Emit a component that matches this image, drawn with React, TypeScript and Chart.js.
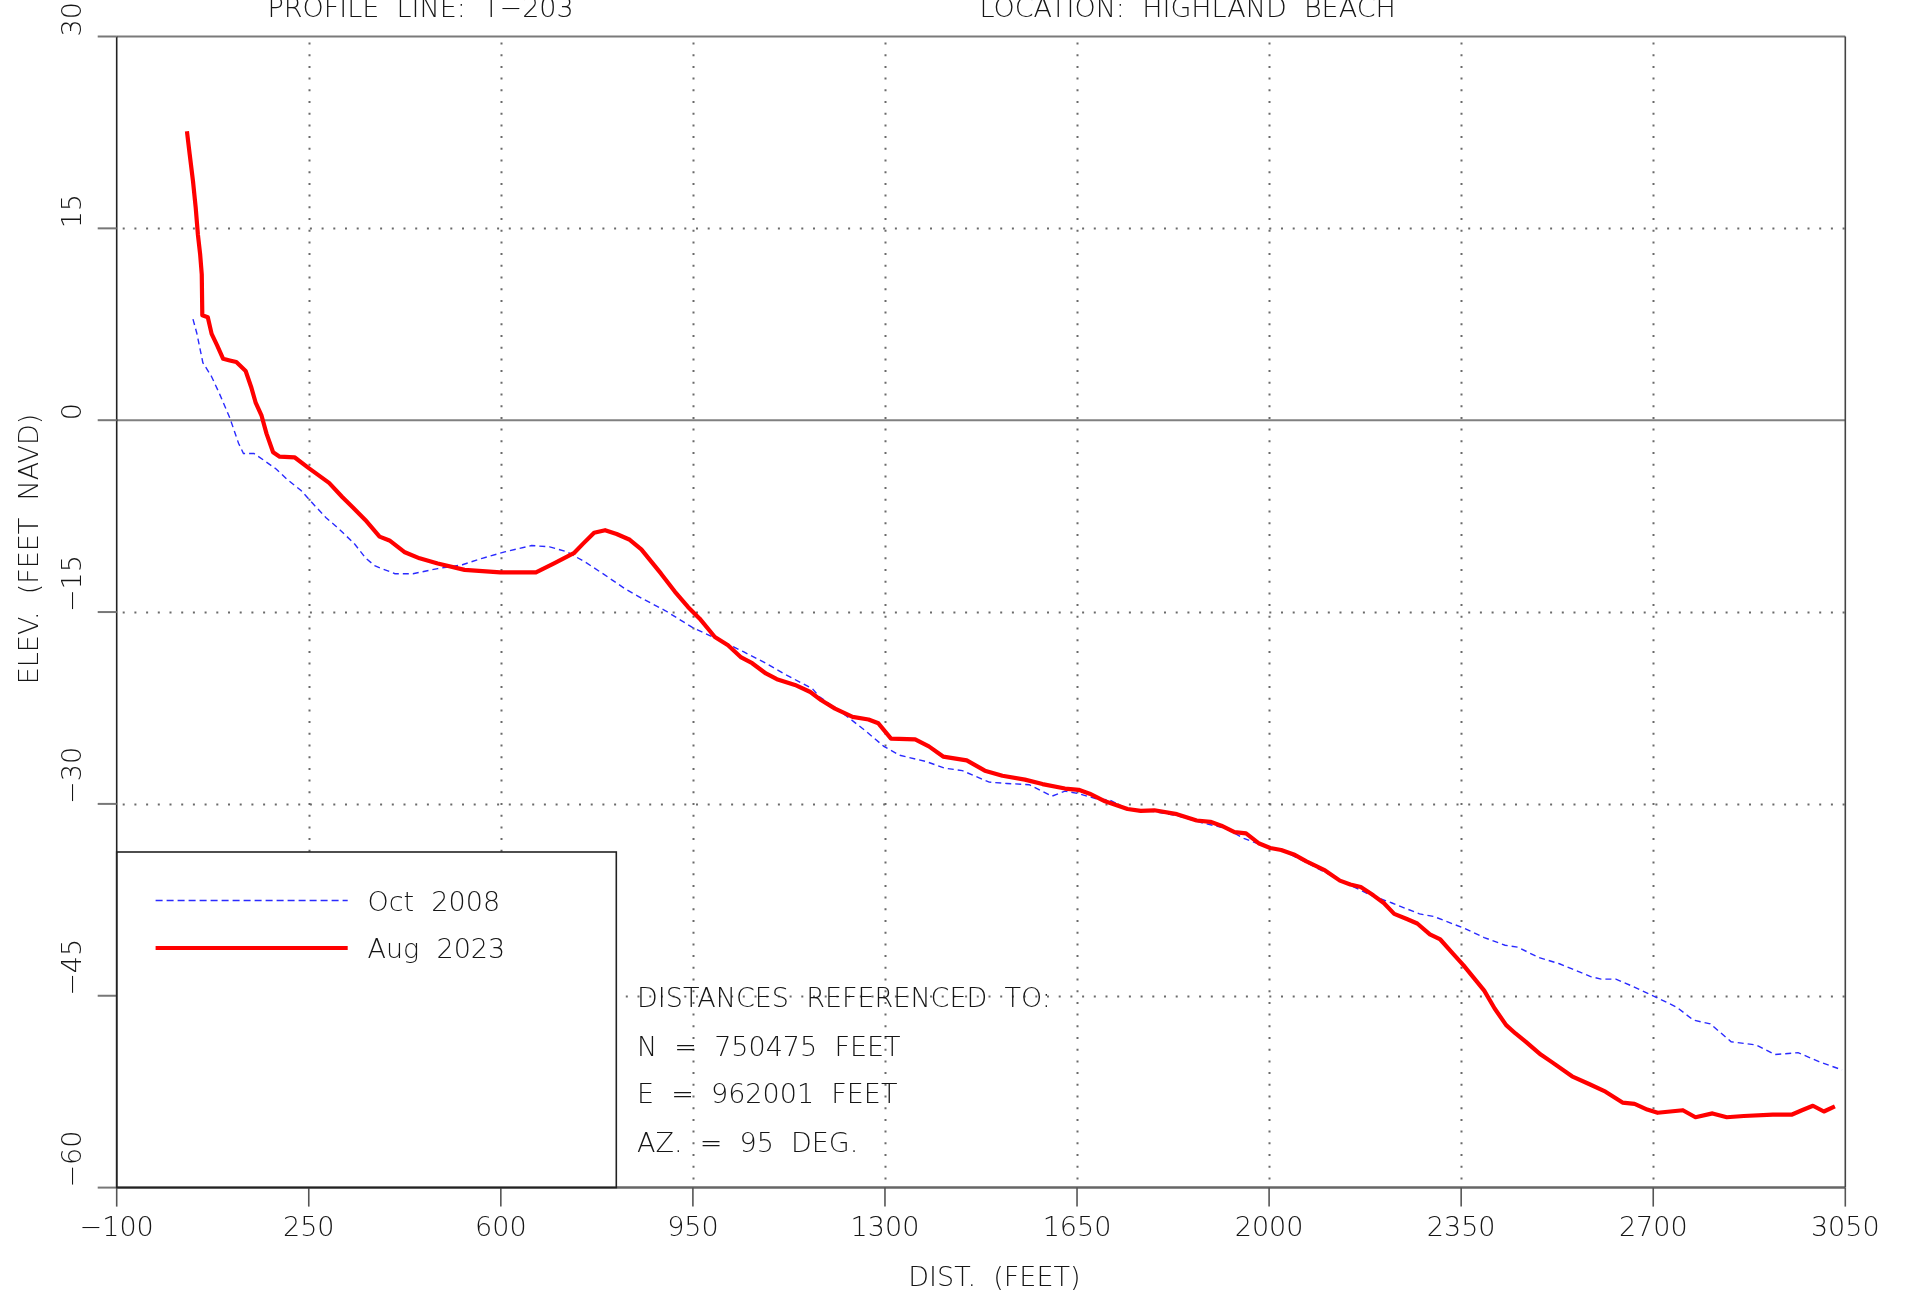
import React, { useEffect, useRef } from 'react';
import { Chart, registerables } from 'chart.js';

Chart.register(...registerables);

// ---------- data ----------
const X_MIN = -100;
const X_MAX = 3050;
const Y_MIN = -60;
const Y_MAX = 30;

const xTickValues = [-100, 250, 600, 950, 1300, 1650, 2000, 2350, 2700, 3050];
const yTickValues = [-60, -45, -30, -15, 0, 15, 30];

const seriesLabels = ['Oct  2008', 'Aug  2023'];

const octDist = [
  39, 46, 57, 73, 88, 106, 122, 131, 150, 167,
  190, 210, 236, 257, 281, 305, 334, 354, 371, 407,
  440, 485, 530, 566, 607, 656, 689, 721, 754, 786,
  827, 860, 900, 949, 994, 1042, 1083, 1115, 1168, 1180,
  1229, 1262, 1298, 1327, 1376, 1408, 1441, 1490, 1522, 1563,
  1604, 1628, 1653, 1685, 1710, 1742, 1790, 1831, 1880, 1920,
  1954, 1985, 2027, 2064, 2100, 2140, 2186, 2224, 2274, 2300,
  2354, 2392, 2430, 2453, 2491, 2529, 2552, 2586, 2605, 2632,
  2659, 2697, 2743, 2773, 2804, 2842, 2888, 2922, 2964, 3002,
  3044,
];
const octElev = [
  7.9, 6.8, 4.5, 3.4, 2.0, 0.2, -1.8, -2.6, -2.6, -3.1,
  -3.8, -4.6, -5.5, -6.5, -7.6, -8.5, -9.7, -10.8, -11.4, -12.0,
  -12.0, -11.6, -11.3, -10.8, -10.3, -9.8, -9.9, -10.3, -11.1, -12.0,
  -13.2, -14.0, -14.9, -16.2, -17.1, -18.1, -19.0, -19.8, -21.0, -21.6,
  -23.1, -24.2, -25.5, -26.2, -26.7, -27.2, -27.4, -28.3, -28.4, -28.5,
  -29.4, -29.0, -29.2, -29.6, -29.7, -30.4, -30.6, -30.9, -31.5, -31.9,
  -32.7, -33.2, -33.7, -34.5, -35.3, -36.2, -37.15, -37.75, -38.6, -38.8,
  -39.7, -40.45, -41.05, -41.2, -42.0, -42.5, -42.9, -43.5, -43.7, -43.7,
  -44.2, -44.95, -45.9, -46.9, -47.2, -48.6, -48.85, -49.6, -49.45, -50.15,
  -50.8,
];

const augDist = [
  28, 33, 39, 44, 48, 52, 55, 56, 66, 73,
  83, 94, 106, 118, 135, 145, 153, 164, 173, 185,
  197, 224, 250, 287, 311, 330, 353, 379, 397, 424,
  452, 485, 534, 599, 664, 697, 733, 750, 770, 790,
  811, 835, 856, 892, 917, 941, 962, 990, 1014, 1038,
  1058, 1083, 1103, 1136, 1164, 1184, 1209, 1241, 1270, 1288,
  1311, 1355, 1380, 1406, 1449, 1482, 1514, 1555, 1587, 1628,
  1653, 1673, 1701, 1742, 1766, 1791, 1832, 1868, 1893, 1913,
  1937, 1958, 1982, 2002, 2022, 2045, 2068, 2102, 2129, 2148,
  2167, 2190, 2209, 2228, 2251, 2270, 2293, 2312, 2335, 2354,
  2373, 2392, 2411, 2432, 2449, 2468, 2495, 2514, 2552, 2583,
  2613, 2644, 2666, 2689, 2708, 2754, 2777, 2808, 2834, 2865,
  2918, 2952, 2971, 2991, 3011, 3031,
];
const augElev = [
  22.6, 20.8, 18.7, 16.6, 14.5, 13.0, 11.4, 8.2, 8.05, 6.75,
  5.85, 4.8, 4.67, 4.55, 3.85, 2.6, 1.4, 0.35, -1.05, -2.5,
  -2.85, -2.9, -3.75, -4.9, -6.0, -6.8, -7.8, -9.1, -9.4, -10.3,
  -10.8, -11.2, -11.7, -11.9, -11.9, -11.2, -10.4, -9.65, -8.8, -8.6,
  -8.9, -9.35, -10.1, -12.0, -13.4, -14.6, -15.5, -16.95, -17.6, -18.55,
  -19.0, -19.8, -20.25, -20.7, -21.25, -21.9, -22.55, -23.2, -23.4, -23.7,
  -24.9, -24.95, -25.5, -26.3, -26.6, -27.4, -27.8, -28.1, -28.45, -28.8,
  -28.9, -29.2, -29.8, -30.4, -30.55, -30.5, -30.8, -31.3, -31.4, -31.7,
  -32.2, -32.3, -33.1, -33.45, -33.6, -33.95, -34.5, -35.2, -36.0, -36.3,
  -36.5, -37.15, -37.75, -38.6, -39.0, -39.35, -40.2, -40.6, -41.7, -42.6,
  -43.6, -44.6, -46.0, -47.3, -47.95, -48.6, -49.6, -50.15, -51.3, -51.9,
  -52.5, -53.35, -53.45, -53.9, -54.15, -53.95, -54.5, -54.2, -54.5, -54.4,
  -54.3, -54.3, -53.95, -53.6, -54.05, -53.65,
];

const titleLeft = 'PROFILE  LINE:  T\u2212203';
const titleRight = 'LOCATION:  HIGHLAND  BEACH';
const xTitle = 'DIST.  (FEET)';
const yTitle = 'ELEV.  (FEET  NAVD)';
const notes = [
  'DISTANCES  REFERENCED  TO:',
  'N  =  750475  FEET',
  'E  =  962001  FEET',
  'AZ.  =  95  DEG.',
];

// ---------- style ----------
const FONT = '"DejaVu Sans", "Liberation Sans", sans-serif';
const FONT_SIZE = 27;
const FONT_WEIGHT = '200';
const TEXT = '#161616';
const BLUE = '#2a2aff';
const RED = '#ff0000';

const fmt = (v: number) => (v < 0 ? '\u2212' + Math.abs(v) : String(v));

const decor = {
  id: 'decor',
  beforeDatasetsDraw(chart: any) {
    const { ctx, chartArea: a, scales } = chart;
    const xs = scales.x;
    const ys = scales.y;
    ctx.save();
    // dotted grid
    ctx.strokeStyle = '#6a6a6a';
    ctx.lineWidth = 2;
    ctx.setLineDash([2, 9.7]);
    xTickValues.forEach((v) => {
      if (v === X_MIN || v === X_MAX) return;
      const px = Math.round(xs.getPixelForValue(v)) + 0.5;
      ctx.beginPath();
      ctx.moveTo(px, a.top + 6);
      ctx.lineTo(px, a.bottom);
      ctx.stroke();
    });
    yTickValues.forEach((v) => {
      if (v === Y_MIN || v === Y_MAX || v === 0) return;
      const py = Math.round(ys.getPixelForValue(v)) + 0.5;
      ctx.beginPath();
      ctx.moveTo(a.left + 6, py);
      ctx.lineTo(a.right, py);
      ctx.stroke();
    });
    ctx.setLineDash([]);
    // zero line
    const y0 = ys.getPixelForValue(0);
    ctx.strokeStyle = '#808080';
    ctx.lineWidth = 2;
    ctx.beginPath();
    ctx.moveTo(a.left, y0);
    ctx.lineTo(a.right, y0);
    ctx.stroke();
    // legend box fill
    ctx.fillStyle = '#ffffff';
    ctx.fillRect(a.left, 852, 616.3 - a.left, a.bottom - 852);
    ctx.restore();
  },
  afterDatasetsDraw(chart: any) {
    const { ctx, chartArea: a, scales } = chart;
    const xs = scales.x;
    const ys = scales.y;
    ctx.save();
    // frame
    ctx.lineWidth = 2;
    ctx.strokeStyle = '#7a7a7a';
    ctx.beginPath();
    ctx.moveTo(a.left, a.top);
    ctx.lineTo(a.right, a.top);
    ctx.stroke();
    ctx.strokeStyle = '#666666';
    ctx.lineWidth = 2.5;
    ctx.beginPath();
    ctx.moveTo(a.left, a.bottom);
    ctx.lineTo(a.right, a.bottom);
    ctx.stroke();
    ctx.lineWidth = 1.6;
    ctx.strokeStyle = '#222222';
    ctx.beginPath();
    ctx.moveTo(a.left, a.top);
    ctx.lineTo(a.left, a.bottom);
    ctx.stroke();
    ctx.strokeStyle = '#444444';
    ctx.beginPath();
    ctx.moveTo(a.right, a.top);
    ctx.lineTo(a.right, a.bottom);
    ctx.stroke();
    // tick marks
    ctx.strokeStyle = '#555555';
    ctx.lineWidth = 1.6;
    xTickValues.forEach((v) => {
      const px = xs.getPixelForValue(v);
      ctx.beginPath();
      ctx.moveTo(px, a.bottom);
      ctx.lineTo(px, a.bottom + 19);
      ctx.stroke();
    });
    ctx.strokeStyle = '#777777';
    ctx.lineWidth = 2;
    yTickValues.forEach((v) => {
      const py = ys.getPixelForValue(v);
      ctx.beginPath();
      ctx.moveTo(a.left - 19, py);
      ctx.lineTo(a.left, py);
      ctx.stroke();
    });
    // legend box border
    ctx.strokeStyle = '#222222';
    ctx.lineWidth = 1.6;
    ctx.strokeRect(a.left, 852, 616.3 - a.left, a.bottom - 852);
    // legend samples
    ctx.strokeStyle = BLUE;
    ctx.lineWidth = 1.5;
    ctx.setLineDash([7, 4]);
    ctx.beginPath();
    ctx.moveTo(155.6, 900.5);
    ctx.lineTo(347.7, 900.5);
    ctx.stroke();
    ctx.setLineDash([]);
    ctx.strokeStyle = RED;
    ctx.lineWidth = 4.2;
    ctx.beginPath();
    ctx.moveTo(155.6, 948);
    ctx.lineTo(347.7, 948);
    ctx.stroke();

    ctx.fillStyle = TEXT;
    ctx.font = `${FONT_WEIGHT} ${FONT_SIZE}px ${FONT}`;
    ctx.textBaseline = 'alphabetic';
    ctx.textAlign = 'left';
    ctx.fillText(seriesLabels[0], 367.5, 910.5);
    ctx.fillText(seriesLabels[1], 367.5, 958);
    // notes
    const noteY = [1007, 1055.5, 1103, 1151.5];
    notes.forEach((t, i) => ctx.fillText(t, 637, noteY[i]));
    // titles
    ctx.textAlign = 'center';
    ctx.fillText(titleLeft, 420.6, 17);
    ctx.fillText(titleRight, 1187.6, 17);
    ctx.fillText(xTitle, 994.4, 1286);
    // y axis labels (rotated)
    yTickValues.forEach((v) => {
      const py = ys.getPixelForValue(v);
      ctx.save();
      ctx.translate(81.4, py);
      ctx.rotate(-Math.PI / 2);
      ctx.textAlign = 'left';
      ctx.fillText(fmt(v), 0, 0);
      ctx.restore();
    });
    ctx.save();
    ctx.translate(37.7, 549);
    ctx.rotate(-Math.PI / 2);
    ctx.textAlign = 'center';
    ctx.fillText(yTitle, 0, 0);
    ctx.restore();
    ctx.restore();
  },
};

export default function App() {
  const ref = useRef<HTMLCanvasElement | null>(null);
  useEffect(() => {
    document.body.style.margin = '0';
    const canvas = ref.current;
    if (!canvas) return;
    const chart = new Chart(canvas, {
      type: 'line',
      data: {
        datasets: [
          {
            label: seriesLabels[0],
            data: octDist.map((d, i) => ({ x: d, y: octElev[i] })),
            borderColor: BLUE,
            borderWidth: 1.4,
            borderDash: [6, 4],
            pointRadius: 0,
            fill: false,
            tension: 0,
            order: 1,
          },
          {
            label: seriesLabels[1],
            data: augDist.map((d, i) => ({ x: d, y: augElev[i] })),
            borderColor: RED,
            borderWidth: 4.2,
            borderJoinStyle: 'round',
            pointRadius: 0,
            fill: false,
            tension: 0,
            order: 0,
          },
        ],
      },
      options: {
        responsive: false,
        animation: false,
        devicePixelRatio: 1,
        layout: { padding: { left: 116.7, right: 60.7, top: 36.5, bottom: 0 } },
        plugins: {
          legend: { display: false },
          tooltip: { enabled: false },
        },
        scales: {
          x: {
            type: 'linear',
            min: X_MIN,
            max: X_MAX,
            grid: { display: false, drawTicks: false },
            border: { display: false },
            ticks: {
              stepSize: 350,
              autoSkip: false,
              maxRotation: 0,
              minRotation: 0,
              padding: 25,
              color: TEXT,
              font: { family: FONT, size: FONT_SIZE, weight: FONT_WEIGHT },
              callback: (v: any) => fmt(Number(v)),
            },
            afterFit: (s: any) => {
              s.height = 105.4;
            },
          },
          y: {
            type: 'linear',
            min: Y_MIN,
            max: Y_MAX,
            display: false,
          },
        },
      } as any,
      plugins: [decor],
    });
    return () => chart.destroy();
  }, []);
  return (
    <div style={{ position: 'fixed', left: 0, top: 0, width: 1906, height: 1293, background: '#fff' }}>
      <canvas ref={ref} width={1906} height={1293} style={{ display: 'block' }} />
    </div>
  );
}
